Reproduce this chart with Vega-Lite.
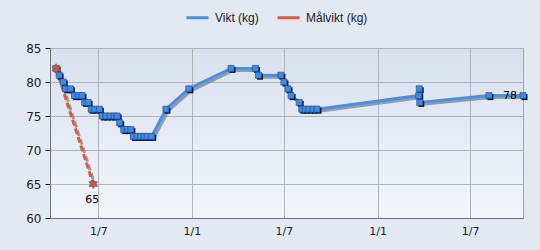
{
  "$schema": "https://vega.github.io/schema/vega-lite/v6.json",
  "width": 473,
  "height": 170,
  "autosize": {"type": "none"},
  "padding": {"left": 50, "top": 48, "right": 17, "bottom": 32},
  "background": "#e3e9f3",
  "config": {
    "font": "DejaVu Sans",
    "view": {
      "stroke": "#9aa2b4",
      "strokeWidth": 1,
      "fill": {"gradient": "linear", "x1": 0, "y1": 0, "x2": 0, "y2": 1,
        "stops": [{"offset": 0, "color": "#d8e0ef"}, {"offset": 1, "color": "#f2f5fa"}]}
    },
    "axis": {"labelFont": "DejaVu Sans", "labelFontSize": 11, "labelColor": "#1a1a2a", "gridColor": "#b0b3ba", "gridWidth": 1, "domainColor": "#6f7278", "title": null}
  },
  "data": {
    "values": [
      {"date": "2010-04-09", "weight": 82, "series": "Vikt (kg)"},
      {"date": "2010-04-15", "weight": 81, "series": "Vikt (kg)"},
      {"date": "2010-04-23", "weight": 80, "series": "Vikt (kg)"},
      {"date": "2010-04-28", "weight": 79, "series": "Vikt (kg)"},
      {"date": "2010-05-07", "weight": 79, "series": "Vikt (kg)"},
      {"date": "2010-05-15", "weight": 78, "series": "Vikt (kg)"},
      {"date": "2010-05-23", "weight": 78, "series": "Vikt (kg)"},
      {"date": "2010-05-30", "weight": 78, "series": "Vikt (kg)"},
      {"date": "2010-06-04", "weight": 77, "series": "Vikt (kg)"},
      {"date": "2010-06-11", "weight": 77, "series": "Vikt (kg)"},
      {"date": "2010-06-17", "weight": 76, "series": "Vikt (kg)"},
      {"date": "2010-06-24", "weight": 76, "series": "Vikt (kg)"},
      {"date": "2010-07-03", "weight": 76, "series": "Vikt (kg)"},
      {"date": "2010-07-09", "weight": 75, "series": "Vikt (kg)"},
      {"date": "2010-07-16", "weight": 75, "series": "Vikt (kg)"},
      {"date": "2010-07-24", "weight": 75, "series": "Vikt (kg)"},
      {"date": "2010-08-01", "weight": 75, "series": "Vikt (kg)"},
      {"date": "2010-08-07", "weight": 75, "series": "Vikt (kg)"},
      {"date": "2010-08-12", "weight": 74, "series": "Vikt (kg)"},
      {"date": "2010-08-20", "weight": 73, "series": "Vikt (kg)"},
      {"date": "2010-08-27", "weight": 73, "series": "Vikt (kg)"},
      {"date": "2010-09-03", "weight": 73, "series": "Vikt (kg)"},
      {"date": "2010-09-08", "weight": 72, "series": "Vikt (kg)"},
      {"date": "2010-09-15", "weight": 72, "series": "Vikt (kg)"},
      {"date": "2010-09-22", "weight": 72, "series": "Vikt (kg)"},
      {"date": "2010-09-29", "weight": 72, "series": "Vikt (kg)"},
      {"date": "2010-10-05", "weight": 72, "series": "Vikt (kg)"},
      {"date": "2010-10-14", "weight": 72, "series": "Vikt (kg)"},
      {"date": "2010-11-11", "weight": 76, "series": "Vikt (kg)"},
      {"date": "2010-12-26", "weight": 79, "series": "Vikt (kg)"},
      {"date": "2011-03-19", "weight": 82, "series": "Vikt (kg)"},
      {"date": "2011-05-06", "weight": 82, "series": "Vikt (kg)"},
      {"date": "2011-05-12", "weight": 81, "series": "Vikt (kg)"},
      {"date": "2011-06-25", "weight": 81, "series": "Vikt (kg)"},
      {"date": "2011-07-01", "weight": 80, "series": "Vikt (kg)"},
      {"date": "2011-07-09", "weight": 79, "series": "Vikt (kg)"},
      {"date": "2011-07-15", "weight": 78, "series": "Vikt (kg)"},
      {"date": "2011-07-31", "weight": 77, "series": "Vikt (kg)"},
      {"date": "2011-08-05", "weight": 76, "series": "Vikt (kg)"},
      {"date": "2011-08-12", "weight": 76, "series": "Vikt (kg)"},
      {"date": "2011-08-19", "weight": 76, "series": "Vikt (kg)"},
      {"date": "2011-08-27", "weight": 76, "series": "Vikt (kg)"},
      {"date": "2011-09-04", "weight": 76, "series": "Vikt (kg)"},
      {"date": "2012-03-22", "weight": 78, "series": "Vikt (kg)"},
      {"date": "2012-03-23", "weight": 79, "series": "Vikt (kg)"},
      {"date": "2012-03-24", "weight": 77, "series": "Vikt (kg)"},
      {"date": "2012-08-07", "weight": 78, "series": "Vikt (kg)"},
      {"date": "2012-10-13", "weight": 78, "series": "Vikt (kg)", "label": "78"},
      {"date": "2010-04-09", "weight": 82, "series": "Målvikt (kg)"},
      {"date": "2010-06-21", "weight": 65, "series": "Målvikt (kg)", "label": "65"}
    ]
  },
  "encoding": {
    "x": {"field": "date", "type": "temporal",
      "scale": {"type": "utc", "domain": [{"year": 2010, "month": 3, "date": 28, "utc": true}, {"year": 2012, "month": 10, "date": 13, "utc": true}]},
      "axis": {"format": "%-d/%-m", "tickCount": {"interval": "month", "step": 6}, "ticks": false, "labelPadding": 7, "grid": true}},
    "y": {"field": "weight", "type": "quantitative",
      "scale": {"domain": [60, 85], "nice": false, "zero": false},
      "axis": {"values": [60, 65, 70, 75, 80, 85], "tickSize": 5, "tickColor": "#111111", "labelPadding": 4, "labelFontSize": 12, "grid": true}}
  },
  "layer": [
    {
      "transform": [{"filter": "datum.series == 'Vikt (kg)'"}],
      "mark": {"type": "line", "strokeWidth": 3, "color": "#7d8088", "opacity": 0.75, "xOffset": 2, "yOffset": 2}
    },
    {
      "transform": [{"filter": "datum.series == 'Målvikt (kg)'"}],
      "mark": {"type": "line", "strokeWidth": 3, "color": "#7d8088", "opacity": 0.75, "xOffset": 2, "yOffset": 2, "strokeDash": [6, 3]}
    },
    {
      "transform": [{"filter": "datum.series == 'Vikt (kg)'"}],
      "mark": {"type": "line", "strokeWidth": 3},
      "encoding": {
        "color": {"field": "series", "scale": {"domain": ["Vikt (kg)", "Målvikt (kg)"], "range": ["#4a8fe4", "#dd5a3c"]},
          "legend": {"title": null, "orient": "none", "legendX": 135, "legendY": -43, "direction": "horizontal", "symbolType": "stroke", "symbolSize": 484, "symbolStrokeWidth": 3, "labelFont": "Liberation Sans", "labelFontSize": 12, "labelColor": "#1a1a2a", "labelOffset": 5, "columnPadding": 12}}
      }
    },
    {
      "transform": [{"filter": "datum.series == 'Målvikt (kg)'"}],
      "mark": {"type": "line", "strokeWidth": 3, "strokeDash": [6, 3]},
      "encoding": {
        "color": {"field": "series"}
      }
    },
    {
      "transform": [{"filter": "datum.series == 'Vikt (kg)'"}],
      "mark": {"type": "square", "size": 36, "color": "#111111", "opacity": 1, "xOffset": 1.5, "yOffset": 1.5}
    },
    {
      "transform": [{"filter": "datum.series == 'Vikt (kg)'"}],
      "mark": {"type": "square", "size": 36, "fill": "#3f8ae3", "stroke": "#1d4f99", "strokeWidth": 0.7, "opacity": 1}
    },
    {
      "transform": [{"filter": "datum.series == 'Målvikt (kg)'"}],
      "mark": {"type": "point", "shape": "M0,-1L0.29,-0.5L0.87,-0.5L0.58,0L0.87,0.5L0.29,0.5L0,1L-0.29,0.5L-0.87,0.5L-0.58,0L-0.87,-0.5L-0.29,-0.5Z", "size": 90, "filled": true, "fill": "#d8503a", "stroke": "#6d6d74", "strokeWidth": 0.8, "opacity": 1}
    },
    {
      "transform": [{"filter": "datum.label != null && datum.series == 'Vikt (kg)'"}],
      "mark": {"type": "text", "dx": -13, "fontSize": 11, "color": "#000000", "baseline": "middle"},
      "encoding": {"text": {"field": "label"}}
    },
    {
      "transform": [{"filter": "datum.label != null && datum.series == 'Målvikt (kg)'"}],
      "mark": {"type": "text", "dx": -1, "dy": 16, "fontSize": 11, "color": "#000000", "baseline": "middle"},
      "encoding": {"text": {"field": "label"}}
    }
  ]
}
